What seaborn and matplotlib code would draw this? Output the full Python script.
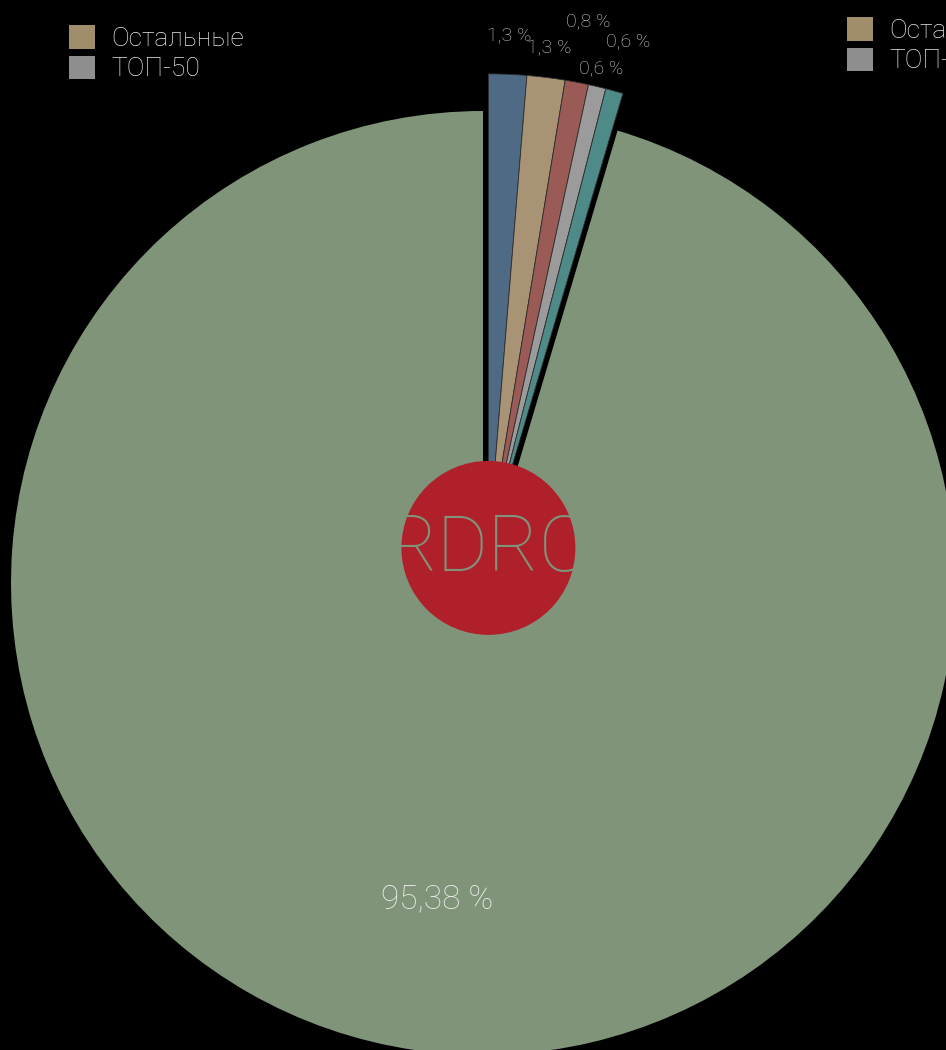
import numpy as np
import matplotlib.pyplot as plt
import matplotlib.patches as mpatches
import seaborn as sns

# данные
segments = ["Синий", "Бежевый", "Красный", "Серый", "Бирюзовый", "Основной"]
shares = [1.3, 1.3, 0.8, 0.6, 0.6, 95.38]
share_labels = ["1,3 %", "1,3 %", "0,8 %", "0,6 %", "0,6 %", "95,38 %"]
legend_names = ["Остальные", "ТОП-50"]

colors = sns.color_palette(["#4f6a85", "#a89474", "#9a5a55", "#9b9b9b", "#4e8a88", "#7f9479"])
legend_colors = ["#a08d6c", "#8e8e8e"]

sns.set_theme(style="dark")
plt.rcParams["font.family"] = ["Roboto", "DejaVu Sans"]

W, H = 946, 1050
fig = plt.figure(figsize=(W / 100, H / 100), dpi=100, facecolor="black")
ax = fig.add_axes([0, 0, 1, 1])
ax.set_facecolor("black")

# геометрия в пикселях (ось y вверх)
cx, cy, R = 483, H - 583, 472
n_small = 5
frac = np.array(shares) / np.sum(shares)
group_mid = np.deg2rad(90 - 360 * frac[:n_small].sum() / 2)
shift = 37.5
ex, ey = cx + shift * np.cos(group_mid), cy + shift * np.sin(group_mid)

# основной сектор
w1, _ = ax.pie(shares, colors=colors, startangle=90, counterclock=False,
               radius=R, center=(cx, cy), frame=True,
               wedgeprops=dict(linewidth=0))
for w in w1[:n_small]:
    w.set_visible(False)

# выдвинутая группа
w2, _ = ax.pie(shares, colors=colors, startangle=90, counterclock=False,
               radius=R, center=(ex, ey), frame=True,
               wedgeprops=dict(linewidth=0.6, edgecolor="#2e2e2e"))
w2[-1].set_visible(False)

# подписи
ends = np.cumsum(frac) * 360
mids = ends - frac * 180
stagger = [1.081, 1.063, 1.132, 1.040, 1.110]
for i in range(n_small):
    a = np.deg2rad(90 - mids[i])
    ax.text(ex + stagger[i] * R * np.cos(a), ey + stagger[i] * R * np.sin(a),
            share_labels[i], color="#cccccc", fontsize=14, fontweight="light",
            ha="center", va="center")
a = np.deg2rad(90 - mids[-1])
ax.text(cx + 0.676 * R * np.cos(a), cy + 0.676 * R * np.sin(a), share_labels[-1],
        color="#ececec", fontsize=24, fontweight="light", ha="center", va="center")

# логотип
circ = mpatches.Circle((ex, ey - 2), 87, facecolor="#b0202b", edgecolor="none", zorder=5)
ax.add_patch(circ)
logo = ax.text(ex, ey - 4, "RDRC", color="#7f9479", fontsize=56, fontweight=100,
               ha="center", va="center", zorder=6)
logo.set_clip_path(circ)

ax.set_xlim(0, W)
ax.set_ylim(0, H)
ax.set_aspect("equal")
ax.axis("off")

# легенды
handles = [mpatches.Patch(facecolor=c, edgecolor="none") for c in legend_colors]
leg_kw = dict(frameon=False, handlelength=1.0, handleheight=1.0,
              handletextpad=0.6, labelspacing=0.18, borderpad=0, borderaxespad=0,
              loc="upper left", labelcolor="#e6e6e6",
              prop=dict(family=["Roboto", "DejaVu Sans"], weight="light", size=19))
leg1 = fig.legend(handles, legend_names, bbox_to_anchor=(69 / W, 1 - 25 / H), **leg_kw)
leg2 = fig.legend(handles, legend_names, bbox_to_anchor=(847 / W, 1 - 17 / H), **leg_kw)

plt.savefig("out.png", dpi=100, facecolor="black")
